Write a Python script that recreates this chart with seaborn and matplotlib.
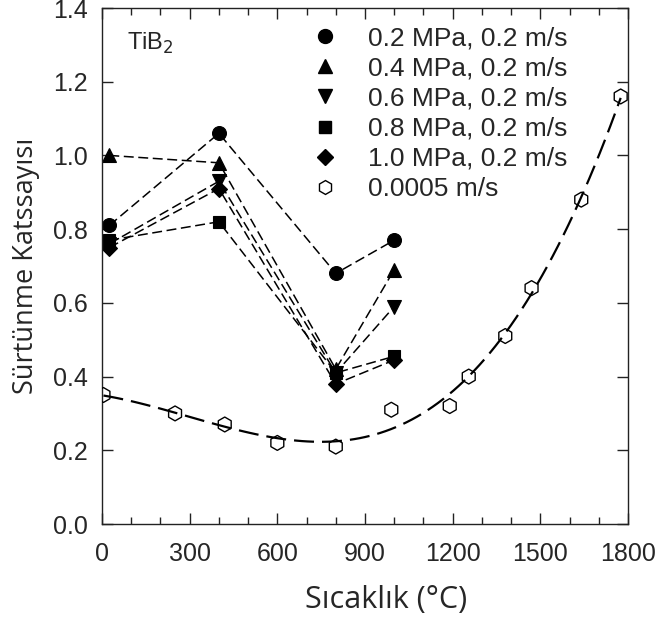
import numpy as np
import pandas as pd
import matplotlib
matplotlib.use("Agg")
import matplotlib.pyplot as plt
import seaborn as sns
from matplotlib.lines import Line2D
from matplotlib.ticker import MultipleLocator

# ---------------- data ----------------
temp = [25, 400, 800, 1000]
mu_02 = [0.81, 1.06, 0.68, 0.77]
mu_04 = [1.00, 0.98, 0.42, 0.69]
mu_06 = [0.76, 0.93, 0.41, 0.59]
mu_08 = [0.77, 0.82, 0.41, 0.455]
mu_10 = [0.75, 0.91, 0.38, 0.445]
series_labels = ["0.2 MPa, 0.2 m/s", "0.4 MPa, 0.2 m/s", "0.6 MPa, 0.2 m/s",
                 "0.8 MPa, 0.2 m/s", "1.0 MPa, 0.2 m/s"]
slow_label = "0.0005 m/s"
slow_temp = [5, 250, 420, 600, 800, 990, 1190, 1255, 1380, 1470, 1640, 1775]
slow_mu = [0.35, 0.30, 0.27, 0.22, 0.21, 0.31, 0.32, 0.40, 0.51, 0.64, 0.88, 1.16]
x_ticks = [0, 300, 600, 900, 1200, 1500, 1800]
y_ticks = [0.0, 0.2, 0.4, 0.6, 0.8, 1.0, 1.2, 1.4]
x_label = "Sıcaklık (°C)"
y_label = "Sürtünme Katssayısı"
material = "TiB$_2$"

markers = ["o", "^", "v", "s", "D"]
msizes = [10, 10, 10, 9, 8.5]

rows = []
for lab, vals in zip(series_labels, [mu_02, mu_04, mu_06, mu_08, mu_10]):
    for t, v in zip(temp, vals):
        rows.append({"T": t, "mu": v, "series": lab})
df = pd.DataFrame(rows)
df_slow = pd.DataFrame({"T": slow_temp, "mu": slow_mu})

sns.set_theme(style="ticks")
plt.rcParams["font.family"] = ["Liberation Sans", "DejaVu Sans"]

fig = plt.figure(figsize=(6.62, 6.25), dpi=100)
ax = fig.add_axes([102 / 662, 1 - 524 / 625, 526 / 662, 516 / 625])

for lab, mk, ms in zip(series_labels, markers, msizes):
    sub = df[df["series"] == lab]
    sns.lineplot(data=sub, x="T", y="mu", ax=ax, color="black", lw=1.1,
                 marker=mk, markersize=ms, markeredgecolor="black",
                 markeredgewidth=0.8, dashes=False, legend=False,
                 estimator=None, sort=False)
for line in ax.lines:
    line.set_dashes((6.5, 3))

sns.regplot(data=df_slow, x="T", y="mu", order=3, ci=None, scatter=False,
            ax=ax, line_kws=dict(color="black", lw=1.6, dashes=(9, 3.6)))
sns.scatterplot(data=df_slow, x="T", y="mu", ax=ax, marker="h", s=115,
                facecolors="none", edgecolor="black", linewidth=1.0,
                legend=False, zorder=5)

ax.set_xlim(0, 1800)
ax.set_ylim(0, 1.4)
ax.set_xticks(x_ticks)
ax.set_yticks(y_ticks)
ax.set_yticklabels([f"{v:.1f}" for v in y_ticks])
ax.xaxis.set_minor_locator(MultipleLocator(100))
ax.tick_params(which="both", direction="in", top=True, right=True,
               color="#222222", width=1.0)
ax.tick_params(which="major", length=8)
ax.tick_params(which="minor", length=5)
ax.tick_params(axis="x", which="major", labelsize=18, pad=13)
ax.tick_params(axis="y", which="major", labelsize=18, pad=10)
for sp in ax.spines.values():
    sp.set_linewidth(1.0)
    sp.set_color("#222222")

ax.set_xlabel(x_label, fontsize=22, family=["Open Sans", "DejaVu Sans"])
ax.set_ylabel(y_label, fontsize=19.5, family=["Open Sans", "DejaVu Sans"])
ax.xaxis.set_label_coords(0.54, -0.118)
ax.yaxis.set_label_coords(-0.118, 0.5)

ax.text(0.0475, 0.919, material, transform=ax.transAxes, fontsize=17,
        ha="left", va="baseline")

handles = [Line2D([], [], ls="none", marker=mk, markersize=ms, color="black",
                  markeredgecolor="black") for mk, ms in zip(markers, msizes)]
handles.append(Line2D([], [], ls="none", marker="h", markersize=10,
                      markerfacecolor="none", markeredgecolor="black"))
leg = ax.legend(handles, series_labels + [slow_label], loc="upper left",
                bbox_to_anchor=(0.399, 0.964), frameon=False, fontsize=19,
                handlelength=1.0, handletextpad=1.13, labelspacing=0.23,
                borderpad=0, borderaxespad=0)

fig.savefig("out.png", dpi=100)
